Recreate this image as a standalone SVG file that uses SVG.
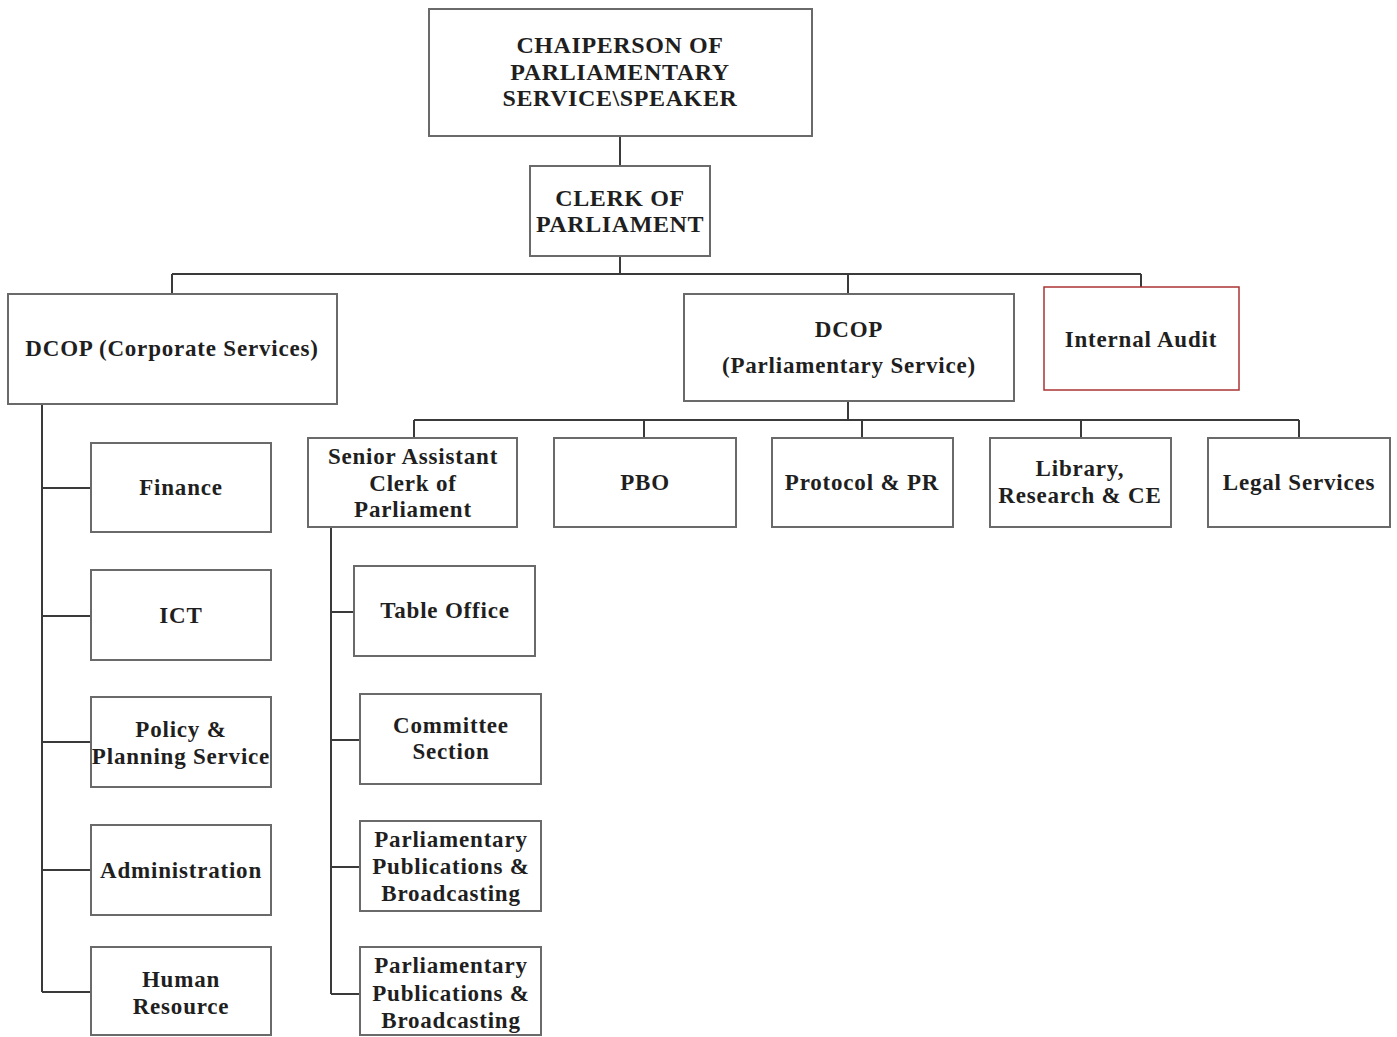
<svg xmlns="http://www.w3.org/2000/svg" width="1397" height="1037" viewBox="0 0 1397 1037">
<style>
.box{fill:#fff;stroke:#6a6a6a;stroke-width:2}
.red{fill:#fff;stroke:#a33;stroke-width:1.5}
.t{font-family:"Liberation Serif",serif;font-size:23px;font-weight:bold;letter-spacing:0.8px;fill:#1f1f1f;text-anchor:middle;dominant-baseline:central}
.h{font-size:24px;letter-spacing:0.6px}
.c{fill:none;stroke:#3a3a3a;stroke-width:2}
</style>
<rect width="1397" height="1037" fill="#fff"/>
<g id="connectors" class="c">
<path d="M620 136V166"/>
<path d="M620 256V274M172 274H1141M172 274V294M848 274V294M1141 274V287"/>
<path d="M848 401V420M414 420H1299M414 420V438M644 420V438M862 420V438M1081 420V438M1299 420V438"/>
<path d="M42 404V992M42 488H91M42 616H91M42 742H91M42 870H91M42 992H91"/>
<path d="M331 527V994M331 612H354M331 740H360M331 867H360M331 994H360"/>
</g>
<g id="chairperson"><rect class="box" x="429" y="9" width="383" height="127"/>
<text class="t h" x="620" y="45">CHAIPERSON OF</text><text class="t h" x="620" y="72">PARLIAMENTARY</text><text class="t h" x="620" y="98">SERVICE\SPEAKER</text></g>
<g id="clerk"><rect class="box" x="530" y="166" width="180" height="90"/>
<text class="t h" x="620" y="198">CLERK OF</text><text class="t h" x="620" y="224">PARLIAMENT</text></g>
<g id="dcop-corporate"><rect class="box" x="8" y="294" width="329" height="110"/>
<text class="t" x="172" y="348">DCOP (Corporate Services)</text></g>
<g id="dcop-parliamentary"><rect class="box" x="684" y="294" width="330" height="107"/>
<text class="t" x="849" y="329">DCOP</text><text class="t" x="849" y="365">(Parliamentary Service)</text></g>
<g id="internal-audit"><rect class="red" x="1044" y="287" width="195" height="103"/>
<text class="t" x="1141" y="339">Internal Audit</text></g>
<g id="senior-assistant"><rect class="box" x="308" y="438" width="209" height="89"/>
<text class="t" x="413" y="456">Senior Assistant</text><text class="t" x="413" y="483">Clerk of</text><text class="t" x="413" y="509">Parliament</text></g>
<g id="pbo"><rect class="box" x="554" y="438" width="182" height="89"/>
<text class="t" x="645" y="482">PBO</text></g>
<g id="protocol"><rect class="box" x="772" y="438" width="181" height="89"/>
<text class="t" x="862" y="482">Protocol &amp; PR</text></g>
<g id="library"><rect class="box" x="990" y="438" width="181" height="89"/>
<text class="t" x="1080" y="468">Library,</text><text class="t" x="1080" y="495">Research &amp; CE</text></g>
<g id="legal"><rect class="box" x="1208" y="438" width="182" height="89"/>
<text class="t" x="1299" y="482">Legal Services</text></g>
<g id="finance"><rect class="box" x="91" y="443" width="180" height="89"/>
<text class="t" x="181" y="487">Finance</text></g>
<g id="ict"><rect class="box" x="91" y="570" width="180" height="90"/>
<text class="t" x="181" y="615">ICT</text></g>
<g id="policy"><rect class="box" x="91" y="697" width="180" height="90"/>
<text class="t" x="181" y="729">Policy &amp;</text><text class="t" x="181" y="756">Planning Service</text></g>
<g id="administration"><rect class="box" x="91" y="825" width="180" height="90"/>
<text class="t" x="181" y="870">Administration</text></g>
<g id="human-resource"><rect class="box" x="91" y="947" width="180" height="88"/>
<text class="t" x="181" y="979">Human</text><text class="t" x="181" y="1006">Resource</text></g>
<g id="table-office"><rect class="box" x="354" y="566" width="181" height="90"/>
<text class="t" x="445" y="610">Table Office</text></g>
<g id="committee"><rect class="box" x="360" y="694" width="181" height="90"/>
<text class="t" x="451" y="725">Committee</text><text class="t" x="451" y="751">Section</text></g>
<g id="publications-1"><rect class="box" x="360" y="821" width="181" height="90"/>
<text class="t" x="451" y="839">Parliamentary</text><text class="t" x="451" y="866">Publications &amp;</text><text class="t" x="451" y="893">Broadcasting</text></g>
<g id="publications-2"><rect class="box" x="360" y="947" width="181" height="88"/>
<text class="t" x="451" y="965">Parliamentary</text><text class="t" x="451" y="993">Publications &amp;</text><text class="t" x="451" y="1020">Broadcasting</text></g>
</svg>
